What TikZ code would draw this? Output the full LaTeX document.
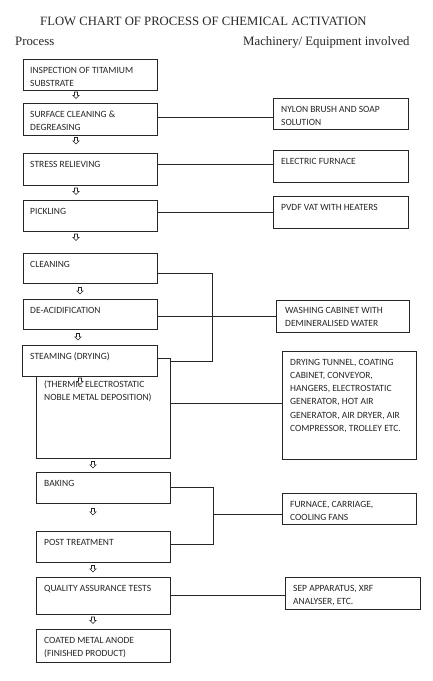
\documentclass[tikz,border=0pt]{standalone}
\usepackage{fontspec}
\setmainfont{Liberation Serif}
\newfontfamily\boxfont{Carlito}
\usetikzlibrary{shapes.arrows}
\begin{document}
\begin{tikzpicture}[x=1pt,y=-1pt,
  ink/.style={draw=black!85, line width=0.9pt},
  procbox/.style={ink, rectangle, inner sep=0pt, anchor=north west, fill=white},
  lbl/.style={anchor=base west, inner sep=0pt, text=black!85,
     font=\boxfont\fontsize{9.5}{13.3}\selectfont},
  head/.style={anchor=base west, inner sep=0pt, text=black!85,
     font=\fontsize{12.8}{14}\selectfont},
  darrow/.style={single arrow, draw=black!85, line width=0.6pt, fill=white,
     shape border rotate=270, minimum height=6.5pt, minimum width=6pt,
     single arrow head extend=1.6pt, inner sep=1.2pt},
  conn/.style={ink}]
\useasboundingbox (0,0) rectangle (432,681);

% headings
\node[head, font=\fontsize{12.7}{14}\selectfont] (title) at (40,25) {FLOW CHART OF PROCESS OF CHEMICAL ACTIVATION};
\node[head] (hproc) at (15,45) {Process};
\node[head] (hmach) at (243,45) {Machinery/ Equipment involved};

% left column
\node[procbox, minimum width=134pt, minimum height=31pt] (L1) at (23,59) {};
\node[lbl] (t1) at (30,73) {\parbox[t]{125pt}{INSPECTION OF TITAMIUM\\SUBSTRATE}};
\node[procbox, minimum width=134pt, minimum height=32pt] (L2) at (23,103) {};
\node[lbl] (t2) at (30,117) {\parbox[t]{125pt}{SURFACE CLEANING \&\\DEGREASING}};
\node[procbox, minimum width=134pt, minimum height=32pt] (L3) at (23,153) {};
\node[lbl] (t3) at (30,167) {STRESS RELIEVING};
\node[procbox, minimum width=134pt, minimum height=31pt] (L4) at (23,200) {};
\node[lbl] (t4) at (30,214) {PICKLING};
\node[procbox, minimum width=134pt, minimum height=30pt] (L5) at (23,253) {};
\node[lbl] (t5) at (30,267) {CLEANING};
\node[procbox, minimum width=134pt, minimum height=30pt] (L6) at (23,299) {};
\node[lbl] (t6) at (30,313) {DE-ACIDIFICATION};
\node[procbox, minimum width=134pt, minimum height=100pt] (L8) at (36,358) {};
\node[lbl] (t8) at (44,387) {\parbox[t]{125pt}{(THERMIC ELECTROSTATIC\\NOBLE METAL DEPOSITION)}};
\node[procbox, minimum width=135pt, minimum height=31pt] (L7) at (22,345) {};
\node[lbl] (t7) at (30,359) {STEAMING (DRYING)};
\node[procbox, minimum width=134pt, minimum height=31pt] (L9) at (36,472) {};
\node[lbl] (t9) at (44,486) {BAKING};
\node[procbox, minimum width=134pt, minimum height=31pt] (L10) at (36,531) {};
\node[lbl] (t10) at (44,545) {POST TREATMENT};
\node[procbox, minimum width=134pt, minimum height=37pt] (L11) at (36,577) {};
\node[lbl] (t11) at (44,591) {QUALITY ASSURANCE TESTS};
\node[procbox, minimum width=134pt, minimum height=33pt] (L12) at (36,629) {};
\node[lbl] (t12) at (44,643) {\parbox[t]{125pt}{COATED METAL ANODE\\(FINISHED PRODUCT)}};

% right column
\node[procbox, minimum width=135pt, minimum height=31pt] (R2) at (273,98) {};
\node[lbl] (u2) at (281,112) {\parbox[t]{125pt}{NYLON BRUSH AND SOAP\\SOLUTION}};
\node[procbox, minimum width=135pt, minimum height=32pt] (R3) at (273,150) {};
\node[lbl] (u3) at (281,164) {ELECTRIC FURNACE};
\node[procbox, minimum width=135pt, minimum height=32pt] (R4) at (273,196) {};
\node[lbl] (u4) at (281,210) {PVDF VAT WITH HEATERS};
\node[procbox, minimum width=133pt, minimum height=32pt] (R6) at (276,300) {};
\node[lbl] (u6) at (285,313) {\parbox[t]{120pt}{WASHING CABINET WITH\\DEMINERALISED WATER}};
\node[procbox, minimum width=134pt, minimum height=108pt] (R8) at (282,351) {};
\node[lbl] (u8) at (290,365) {\parbox[t]{125pt}{DRYING TUNNEL, COATING\\CABINET, CONVEYOR,\\HANGERS, ELECTROSTATIC\\GENERATOR, HOT AIR\\GENERATOR, AIR DRYER, AIR\\COMPRESSOR, TROLLEY ETC.}};
\node[procbox, minimum width=134pt, minimum height=31pt] (R9) at (282,493) {};
\node[lbl] (u9) at (290,507) {\parbox[t]{125pt}{FURNACE, CARRIAGE,\\COOLING FANS}};
\node[procbox, minimum width=135pt, minimum height=32pt] (R11) at (285,577) {};
\node[lbl] (u11) at (293,591) {\parbox[t]{125pt}{SEP APPARATUS, XRF\\ANALYSER, ETC.}};

% down arrows
\node[darrow] (a1) at (76,94.5) {};
\node[darrow] (a2) at (76,140) {};
\node[darrow] (a3) at (76,190.5) {};
\node[darrow] (a4) at (76,236.5) {};
\node[darrow] (a5) at (80,290) {};
\node[darrow] (a6) at (78,336) {};
\node[darrow] (a7) at (80,380.5) {};
\node[darrow] (a8) at (93,464) {};
\node[darrow] (a9) at (93,511) {};
\node[darrow] (a10) at (93,568) {};
\node[darrow] (a11) at (93,619.5) {};

% connectors
\draw[conn] (L2.east |- 0,117) -- (R2.west |- 0,117);
\draw[conn] (L3.east |- 0,164) -- (R3.west |- 0,164);
\draw[conn] (L4.east |- 0,212) -- (R4.west |- 0,212);
\coordinate (j1) at (212,273);
\coordinate (j2) at (212,361);
\draw[conn] (L5.east |- j1) -- (j1) -- (j2) -- (L8.east |- j2);
\draw[conn] (L6.east |- 0,316) -- (R6.west |- 0,316);
\draw[conn] (L8.east |- 0,403) -- (R8.west |- 0,403);
\coordinate (k1) at (213,487);
\coordinate (k2) at (213,544);
\coordinate (k3) at (213,514);
\draw[conn] (L9.east |- k1) -- (k1) -- (k2) -- (L10.east |- k2);
\draw[conn] (k3) -- (R9.west |- k3);
\draw[conn] (L11.east |- 0,595) -- (R11.west |- 0,595);
\end{tikzpicture}
\end{document}
